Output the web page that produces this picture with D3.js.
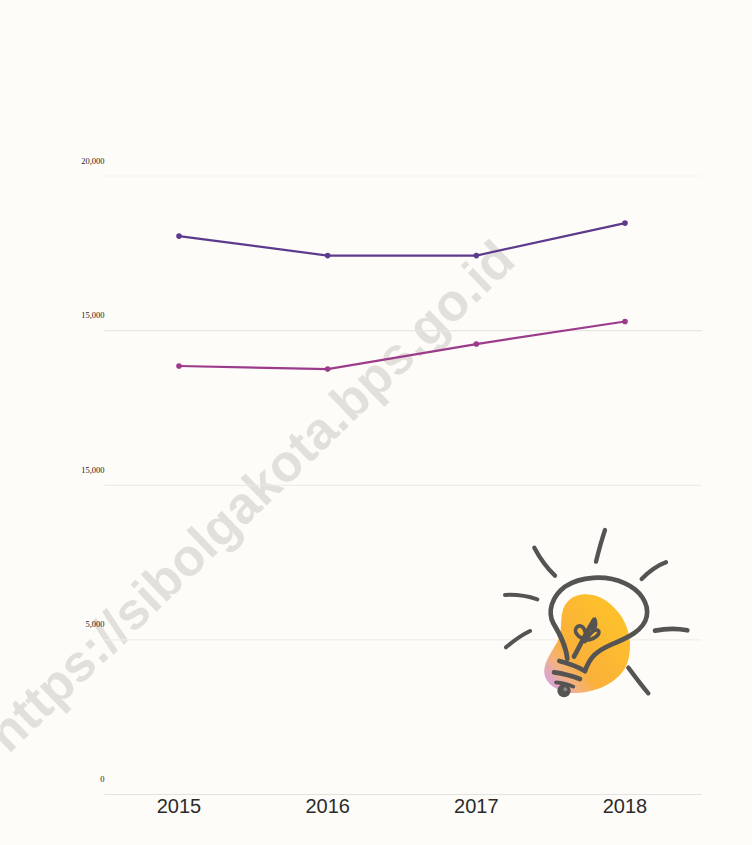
<!DOCTYPE html>
<html><head><meta charset="utf-8">
<script src="https://cdn.jsdelivr.net/npm/d3@7"></script>
<style>html,body{margin:0;padding:0;background:#fefcf8}svg{display:block}</style>
</head><body><svg id="c" width="752" height="845"></svg>
<script>
const years = ["2015","2016","2017","2018"];
const seriesUpper = [18040, 17410, 17410, 18460];
const seriesLower = [13840, 13740, 14550, 15280];
const tickValues = [0, 5000, 10000, 15000, 20000];
const tickLabels = ["0", "5,000", "15,000", "15,000", "20,000"];
const gridColors = ["#e4e2de", "#f0eeea", "#ece9e5", "#e8e6e2", "#f6f4ef"];
const upperColor = "#5c3a8c", lowerColor = "#9c3a8c";

const svg = d3.select("#c");
svg.append("rect").attr("width",752).attr("height",845).attr("fill","#fefcf8");

const x = d3.scalePoint().domain(years).range([179,625]);
const y = d3.scaleLinear().domain([0,20000]).range([794,175.5]);

// watermark
svg.append("text").attr("text-anchor","middle")
 .attr("transform","translate(263,509) rotate(-44)")
 .attr("font-family","'Liberation Sans',sans-serif").attr("font-weight","700").attr("font-size",52)
 .attr("fill","#7a7570").attr("fill-opacity",0.2).text("https://sibolgakota.bps.go.id");

// gridlines and tick labels
const yAxis = d3.axisLeft(y).tickValues(tickValues).tickSize(-597)
  .tickFormat((d,i)=>tickLabels[i]);
const gy = svg.append("g").attr("transform","translate(104.5,0)").call(yAxis);
gy.select(".domain").remove();
gy.selectAll(".tick line").attr("stroke",(d,i)=>gridColors[i]).attr("stroke-width",1.2);
gy.selectAll(".tick text").attr("x",0).attr("dy",0).attr("y",-12.5)
  .attr("font-family","'Liberation Serif',serif").attr("font-size",8.5).attr("fill","#222").attr("text-anchor","end");

// x axis
const xAxis = d3.axisBottom(x).tickSize(0).tickPadding(0);
const gx = svg.append("g").attr("transform","translate(-0.5,794)").call(xAxis);
gx.select(".domain").remove();
gx.selectAll("text").attr("y",5).attr("dy","0.71em").attr("font-family","'Liberation Sans',sans-serif").attr("font-size",20).attr("fill","#2b2b2b");

// series
const line = d3.line().x((d,i)=>x(years[i])).y(d=>y(d));
[[seriesUpper,upperColor],[seriesLower,lowerColor]].forEach(([vals,col])=>{
  svg.append("path").attr("d",line(vals)).attr("fill","none").attr("stroke",col).attr("stroke-width",2.2);
  svg.selectAll(null).data(vals).enter().append("circle")
    .attr("cx",(d,i)=>x(years[i])).attr("cy",d=>y(d)).attr("r",2.8).attr("fill",col);
});

// illustration (light bulb), drawn in a 3x local space
const defs = svg.append("defs");
const g1 = defs.append("linearGradient").attr("id","blob").attr("x1","0.8").attr("y1","0.2").attr("x2","0.05").attr("y2","0.9");
[["0","#fdc02c"],["0.62","#fab03a"],["0.8","#f5b27c"],["1","#d6a3d8"]].forEach(s=>g1.append("stop").attr("offset",s[0]).attr("stop-color",s[1]));
const b = svg.append("g").attr("transform","translate(490,515) scale(0.3333)");
b.append("path").attr("fill","url(#blob)")
 .attr("d","M282,238 C325,235 365,262 395,305 C420,345 428,395 412,445 C392,495 340,522 285,532 C245,539 195,530 172,498 C150,465 172,430 200,385 C222,350 205,305 225,270 C240,248 258,240 282,238 Z");
const ink = "#565452";
const strokes = [
 ["M345,45 C335,75 326,108 318,140",13],
 ["M133,98 C150,130 172,160 195,182",13],
 ["M528,142 C500,152 475,172 455,192",13],
 ["M45,240 C80,238 112,243 142,253",12],
 ["M495,347 C530,340 562,340 592,346",14],
 ["M120,348 C95,360 70,378 48,397",12],
 ["M415,458 C435,485 455,512 475,535",13],
 ["M232,432 C228,390 208,355 190,325 C172,290 185,245 225,215 C270,185 345,178 405,205 C450,225 478,265 470,305 C462,345 415,368 365,388 C320,408 300,425 285,468",14],
 ["M208,438 C235,445 258,452 285,468",14],
 ["M192,472 C215,475 245,482 270,492",14],
 ["M198,502 C215,503 235,508 250,515",11],
 ["M252,425 C268,395 285,360 312,315",14],
 ["M290,372 C262,372 248,345 262,335 C280,325 292,352 285,380",11],
 ["M288,375 C310,375 330,360 326,348 C318,338 300,352 292,372",11]
];
strokes.forEach(s=>b.append("path").attr("d",s[0]).attr("fill","none").attr("stroke",ink).attr("stroke-width",s[1]).attr("stroke-linecap","round").attr("stroke-linejoin","round"));
b.append("path").attr("d","M316,305 C328,322 322,345 308,352 C296,340 300,320 316,305 Z").attr("fill",ink);
b.append("circle").attr("cx",222).attr("cy",527).attr("r",20).attr("fill",ink);
b.append("circle").attr("cx",226).attr("cy",523).attr("r",6).attr("fill","#8a8886");
</script></body></html>
